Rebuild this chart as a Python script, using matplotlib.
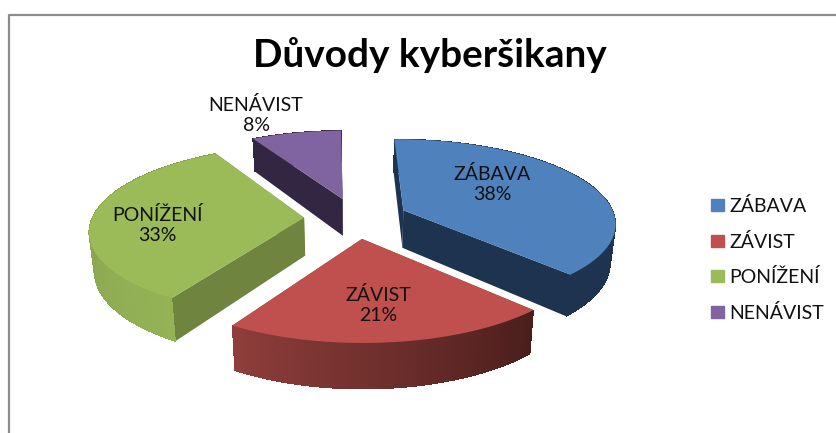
import numpy as np
import matplotlib
matplotlib.use("Agg")
import matplotlib.pyplot as plt
from matplotlib.patches import Patch

labels = ["ZÁBAVA", "ZÁVIST", "PONÍŽENÍ", "NENÁVIST"]
values = [38, 21, 33, 8]
title = "Důvody kyberšikany"
top_colors = ["#4f81bd", "#c0504d", "#9bbb59", "#8064a2"]
side_colors = ["#1d3350", "#6e2c2a", "#6f853f", "#322642"]
# outer wall colours, from start to end of the slice
wall_from = ["#1d3350", "#4a1e1c", "#94b356", "#322642"]
wall_to = ["#1d3350", "#8f3e3b", "#7c9748", "#322642"]
label_pos = [(492, 184), (378, 305), (157, 225), (256, 115)]

plt.rcParams["font.family"] = ["Lato", "DejaVu Sans"]

cx, cy = 356, 218
rx, ry = 212, 83
persp = 0.14
depth = 38
explode = 0.245
rotation = np.radians(-1)


def project(x, y, bottom=False):
    s = 1 / (1 + persp * y)
    px = rx * x * s
    py = cy - ry * y * s
    if bottom:
        py = py + depth * s
        px = px * 0.98
    return cx + px, py


fig = plt.figure(figsize=(8.36, 4.33), dpi=100)
ax = fig.add_axes([0, 0, 1, 1])
ax.set_xlim(0, 836)
ax.set_ylim(433, 0)
ax.axis("off")

# frame of the chart area, only top and left show in the screenshot
ax.plot([9, 9, 836], [433, 15, 15], color="#8c8c8c", lw=1.6)

cum = np.cumsum([0] + values) / sum(values) * 2 * np.pi + rotation
slices = []
for i in range(len(values)):
    a0, a1 = cum[i], cum[i + 1]
    mid = (a0 + a1) / 2
    ox, oy = explode * np.sin(mid), explode * np.cos(mid)
    slices.append((i, a0, a1, ox, oy))

# painter order, back slices first
for i, a0, a1, ox, oy in sorted(slices, key=lambda s: -s[4]):
    th = np.linspace(a0, a1, 80)
    xs = ox + np.sin(th)
    ys = oy + np.cos(th)
    for end in (0, -1):
        top = [project(ox, oy), project(xs[end], ys[end])]
        bot = [project(xs[end], ys[end], True), project(ox, oy, True)]
        ax.fill(*zip(*(top + bot)), color=side_colors[i], lw=0)
    c0 = np.array(matplotlib.colors.to_rgb(wall_from[i]))
    c1 = np.array(matplotlib.colors.to_rgb(wall_to[i]))
    for k in range(len(th) - 1):
        q = [project(xs[k], ys[k]), project(xs[k + 1], ys[k + 1]),
             project(xs[k + 1], ys[k + 1], True), project(xs[k], ys[k], True)]
        t = k / (len(th) - 2)
        col = c0 + (c1 - c0) * t
        ax.fill(*zip(*q), color=col, lw=0, antialiased=False)
    pts = [project(ox, oy)] + [project(x, y) for x, y in zip(xs, ys)]
    ax.fill(*zip(*pts), color=top_colors[i], lw=0)

for i in range(len(values)):
    ax.text(label_pos[i][0], label_pos[i][1], f"{labels[i]}\n{values[i]}%",
            ha="center", va="center", fontsize=14, color="#111111", linespacing=1.25)

ax.text(430, 55, title, ha="center", va="center", fontsize=27.9, fontweight="bold", color="black")

handles = [Patch(color=c) for c in top_colors]
ax.legend(handles, labels, loc="center left", bbox_to_anchor=(711 / 836, 1 - 259.5 / 433),
          frameon=False, fontsize=14, handlelength=0.67, handleheight=0.57,
          handletextpad=0.27, labelspacing=0.9, borderpad=0, borderaxespad=0,
          labelcolor="#111111")

fig.savefig("out.png", dpi=100)
